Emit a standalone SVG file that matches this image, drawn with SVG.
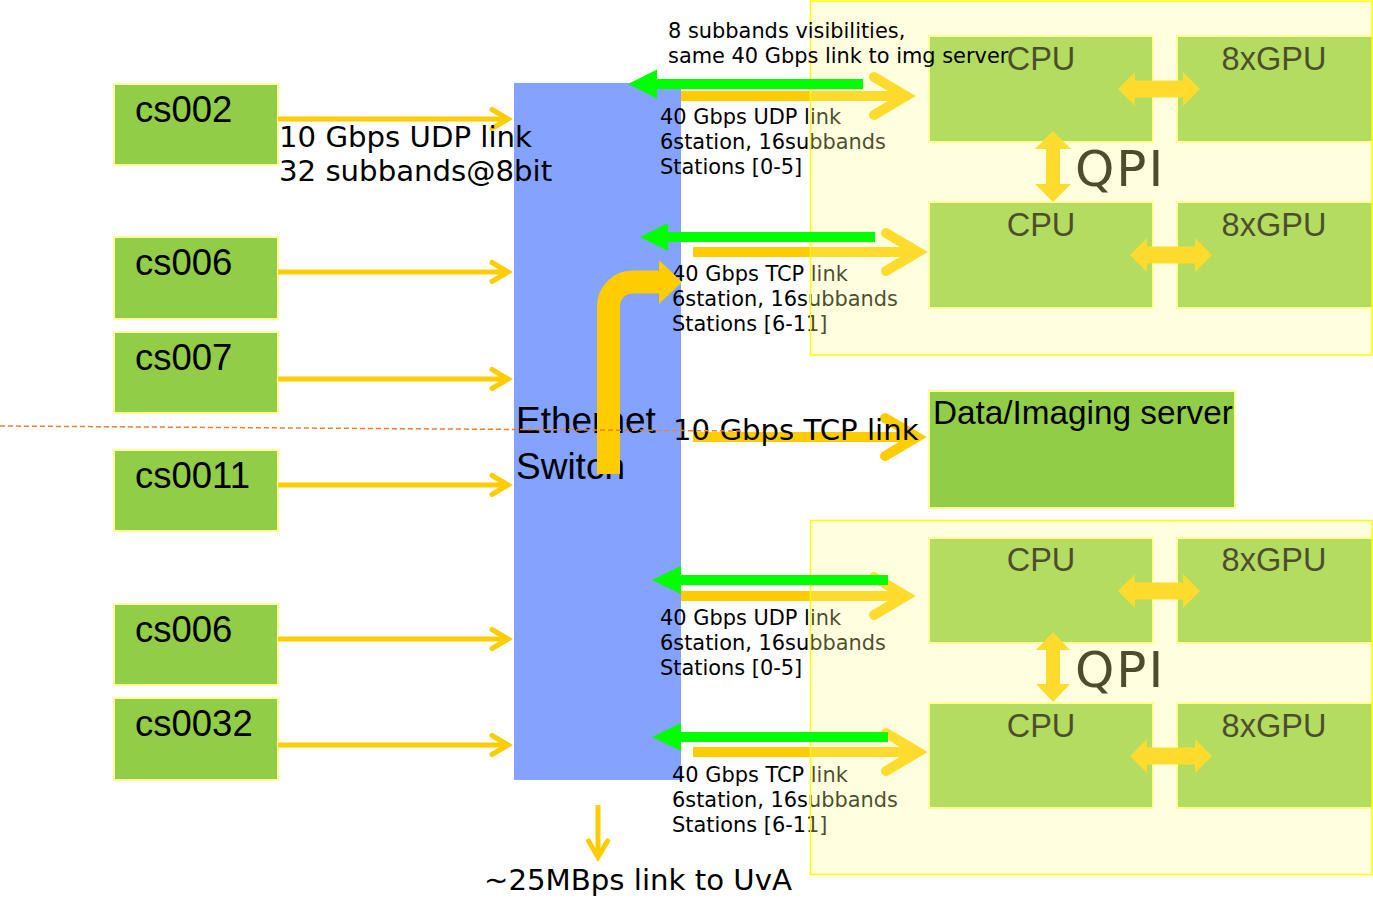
<svg xmlns="http://www.w3.org/2000/svg" width="1373" height="911" viewBox="0 0 1373 911">
<style>
.stn{fill:#92CD48;stroke:#FFFF99;stroke-width:2}
.lbl{font-family:"Liberation Sans",Arial,sans-serif;fill:#000}
.vt{font-family:"DejaVu Sans",Verdana,sans-serif;fill:#000}
.sm{font-size:20.9px}
.big{font-size:29.2px}
.ylw{fill:none;stroke:#FFCC00}
.thin{stroke-width:5}
.thick{stroke-width:10}
.grn{fill:#00FF00}
.dbl{fill:#FFCC00}
.cov{fill:#FFFF99;fill-opacity:0.3;stroke:#FFFF00;stroke-width:1.5}
</style>
<defs>
<marker id="chev" markerUnits="strokeWidth" viewBox="-6 -4 8 8" markerWidth="8" markerHeight="8" refX="0" refY="0" orient="auto" overflow="visible">
<path d="M-3.2,-1.9 L0,0 L-3.2,1.9" fill="none" stroke="#FFCC00" stroke-width="1" stroke-linecap="round" stroke-linejoin="miter"/>
</marker>
</defs>
<rect width="1373" height="911" fill="#FFFFFF"/>

<g id="stations">
<g id="cs002"><rect class="stn" x="114" y="84" width="164" height="81"/><text class="lbl" x="135" y="122" font-size="36.5">cs002</text></g>
<g id="cs006a"><rect class="stn" x="114" y="237" width="164" height="82"/><text class="lbl" x="135" y="275" font-size="36.5">cs006</text></g>
<g id="cs007"><rect class="stn" x="114" y="332" width="164" height="81"/><text class="lbl" x="135" y="370" font-size="36.5">cs007</text></g>
<g id="cs0011"><rect class="stn" x="114" y="450" width="164" height="81"/><text class="lbl" x="135" y="488" font-size="36.5">cs0011</text></g>
<g id="cs006b"><rect class="stn" x="114" y="604" width="164" height="81"/><text class="lbl" x="135" y="642" font-size="36.5">cs006</text></g>
<g id="cs0032"><rect class="stn" x="114" y="698" width="164" height="82"/><text class="lbl" x="135" y="736" font-size="36.5">cs0032</text></g>
</g>

<g id="switch">
<rect x="514" y="83" width="167" height="697" fill="#83A3FF"/>
<text class="lbl" x="516" y="433" font-size="37">Ethernet</text>
<text class="lbl" x="516" y="479" font-size="37">Switch</text>
</g>

<g id="node-top">
<rect class="stn" x="929" y="36" width="224" height="106"/>
<rect class="stn" x="1177" y="36" width="196" height="106"/>
<rect class="stn" x="929" y="202" width="224" height="106"/>
<rect class="stn" x="1177" y="202" width="196" height="106"/>
<text class="lbl" x="1041" y="70" font-size="32.5" text-anchor="middle">CPU</text>
<text class="lbl" x="1274" y="70" font-size="32.5" text-anchor="middle">8xGPU</text>
<text class="lbl" x="1041" y="236" font-size="32.5" text-anchor="middle">CPU</text>
<text class="lbl" x="1274" y="236" font-size="32.5" text-anchor="middle">8xGPU</text>
<polygon class="dbl" points="1118,89 1135,72 1135,80.5 1183,80.5 1183,72 1200,89 1183,106 1183,97.5 1135,97.5 1135,106"/>
<polygon class="dbl" points="1130,255 1147,238 1147,246.5 1195,246.5 1195,238 1212,255 1195,272 1195,263.5 1147,263.5 1147,272"/>
<polygon class="dbl" points="1053,131 1071,149 1060,149 1060,184 1071,184 1053,202 1035,184 1046,184 1046,149 1035,149"/>
<text class="vt" x="1075" y="186" font-size="50" letter-spacing="2">QPI</text>
</g>

<g id="node-bottom">
<rect class="stn" x="929" y="538" width="224" height="105"/>
<rect class="stn" x="1177" y="538" width="196" height="105"/>
<rect class="stn" x="929" y="703" width="224" height="105"/>
<rect class="stn" x="1177" y="703" width="196" height="105"/>
<text class="lbl" x="1041" y="571" font-size="32.5" text-anchor="middle">CPU</text>
<text class="lbl" x="1274" y="571" font-size="32.5" text-anchor="middle">8xGPU</text>
<text class="lbl" x="1041" y="737" font-size="32.5" text-anchor="middle">CPU</text>
<text class="lbl" x="1274" y="737" font-size="32.5" text-anchor="middle">8xGPU</text>
<polygon class="dbl" points="1118,591 1135,574 1135,582.5 1183,582.5 1183,574 1200,591 1183,608 1183,599.5 1135,599.5 1135,608"/>
<polygon class="dbl" points="1130,756 1147,739 1147,747.5 1195,747.5 1195,739 1212,756 1195,773 1195,764.5 1147,764.5 1147,773"/>
<polygon class="dbl" points="1053,632 1070,650 1060,650 1060,684 1070,684 1053,702 1036,684 1046,684 1046,650 1036,650"/>
<text class="vt" x="1075" y="687" font-size="50" letter-spacing="2">QPI</text>
</g>

<g id="data-server">
<rect class="stn" x="929" y="391" width="306" height="117"/>
<text class="lbl" x="933" y="424" font-size="33.3">Data/Imaging server</text>
</g>

<g id="connectors">
<path class="ylw thin" d="M278,119 H508" marker-end="url(#chev)"/>
<path class="ylw thin" d="M278,272 H508" marker-end="url(#chev)"/>
<path class="ylw thin" d="M278,379 H508" marker-end="url(#chev)"/>
<path class="ylw thin" d="M278,485 H508" marker-end="url(#chev)"/>
<path class="ylw thin" d="M278,639 H508" marker-end="url(#chev)"/>
<path class="ylw thin" d="M278,745 H508" marker-end="url(#chev)"/>
<path class="ylw thin" d="M598,805 V857" marker-end="url(#chev)"/>
<path class="ylw thick" d="M681,96 H906" marker-end="url(#chev)"/>
<path class="ylw thick" d="M693,252 H918" marker-end="url(#chev)"/>
<path class="ylw thick" d="M693,437 H917" marker-end="url(#chev)"/>
<path class="ylw thick" d="M681,596 H906" marker-end="url(#chev)"/>
<path class="ylw thick" d="M693,752 H918" marker-end="url(#chev)"/>
</g>

<g id="link-labels">
<text class="vt big" x="279" y="147">10 Gbps UDP link</text>
<text class="vt big" x="279" y="181">32 subbands@8bit</text>
<text class="vt sm" x="660" y="124">40 Gbps UDP link</text>
<text class="vt sm" x="660" y="149">6station, 16subbands</text>
<text class="vt sm" x="660" y="174">Stations [0-5]</text>
<text class="vt sm" x="672" y="281">40 Gbps TCP link</text>
<text class="vt sm" x="672" y="306">6station, 16subbands</text>
<text class="vt sm" x="672" y="331">Stations [6-11]</text>
<text class="vt big" x="673" y="440">10 Gbps TCP link</text>
<text class="vt sm" x="660" y="625">40 Gbps UDP link</text>
<text class="vt sm" x="660" y="650">6station, 16subbands</text>
<text class="vt sm" x="660" y="675">Stations [0-5]</text>
<text class="vt sm" x="672" y="782">40 Gbps TCP link</text>
<text class="vt sm" x="672" y="807">6station, 16subbands</text>
<text class="vt sm" x="672" y="832">Stations [6-11]</text>
<text class="vt big" x="484" y="890">~25MBps link to UvA</text>
</g>

<g id="containers">
<rect class="cov" x="810.5" y="1" width="561.5" height="354"/>
<rect class="cov" x="810.5" y="520.5" width="561.5" height="354"/>
</g>

<g id="return-links">
<rect class="grn" x="656" y="79" width="207" height="10"/>
<polygon class="grn" points="628,84 657,69.5 657,98.5"/>
<rect class="grn" x="667" y="232" width="208" height="10"/>
<polygon class="grn" points="640,237 668,223 668,251"/>
<rect class="grn" x="680" y="575" width="208" height="10"/>
<polygon class="grn" points="652,580 681,566 681,594"/>
<rect class="grn" x="680" y="732" width="208" height="10"/>
<polygon class="grn" points="652,737 681,723 681,751"/>
</g>

<g id="top-label">
<text class="vt sm" x="668" y="38">8 subbands visibilities,</text>
<text class="vt sm" x="668" y="63">same 40 Gbps link to img server</text>
</g>

<g id="switch-loop">
<path d="M608.5,474 V306 A24,24 0 0 1 632.5,282 H660" fill="none" stroke="#FFCC00" stroke-width="23"/>
<polygon points="659,260 682,282 659,304" fill="#FFCC00"/>
</g>

<path id="divider" d="M0,426 L743,431" fill="none" stroke="#F08030" stroke-width="1.5" stroke-dasharray="5,3"/>
</svg>
